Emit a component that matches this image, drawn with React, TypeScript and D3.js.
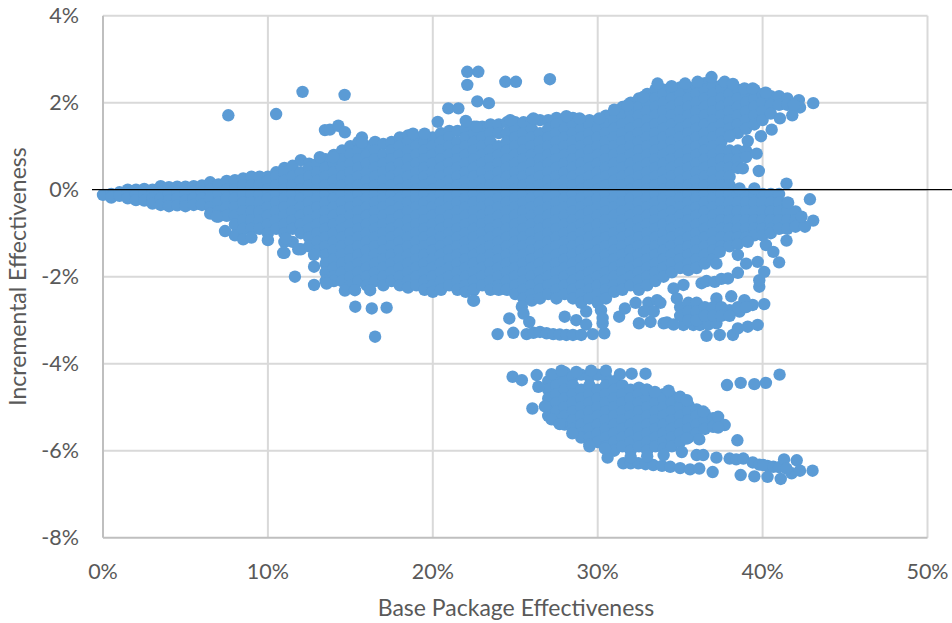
import React from "react";
import * as d3 from "d3";

const xTicks = [0, 10, 20, 30, 40, 50];
const yTicks = [4, 2, 0, -2, -4, -6, -8];
const xTitle = "Base Package Effectiveness";
const yTitle = "Incremental Effectiveness";

// [base %, incremental % values]
const tailColumns: [number, number[]][] = [
  [0, [-0.12]], [0.5, [-0.1, -0.18]], [1, [-0.06, -0.14]], [1.5, [0, -0.1, -0.2]], [2, [0, -0.1, -0.24]],
  [2.5, [0.02, -0.1, -0.25]], [3, [0, -0.1, -0.2, -0.32]], [3.5, [0.08, -0.05, -0.2, -0.35]], [4, [0.06, -0.1, -0.25, -0.38]],
  [4.5, [0.07, -0.05, -0.2, -0.36]], [5, [0.07, -0.1, -0.25, -0.38]], [5.5, [0.08, -0.05, -0.2, -0.35]], [6, [0.1, -0.05, -0.2, -0.35]],
  [6.5, [0.17, 0, -0.2, -0.4, -0.55]], [7, [0.12, -0.1, -0.3, -0.5, -0.62]], [7.5, [0.2, 0, -0.2, -0.4, -0.6]],
  [8, [0.22, 0, -0.2, -0.4, -0.6, -0.8, -1.05]], [8.5, [0.26, 0.1, -0.1, -0.3, -0.5, -0.7, -0.9, -1.14]], [9, [0.3, 0.1, -0.1, -0.3, -0.5, -0.7, -0.9, -1.1]],
  [9.5, [0.3, 0.1, -0.1, -0.3, -0.5, -0.7, -0.9]], [10, [0.3, 0.2, 0, -0.2, -0.4, -0.6, -0.8, -1, -1.16]], [10.5, [0.4, 0.3, 0.1, -0.1, -0.3, -0.5, -0.7, -0.9]],
  [11, [0.5, 0.4, 0.2, 0, -0.2, -0.4, -0.6, -0.8, -1, -1.2, -1.45]], [11.5, [0.55, 0.3, 0.1, -0.1, -0.3, -0.5, -0.7, -0.9, -1.2]],
  [12, [0.68, 0.4, 0.2, 0, -0.2, -0.4, -0.6, -0.8, -1, -1.37]], [12.5, [0.6, 0.5, 0.3, 0.1, -0.1, -0.3, -0.5, -0.7, -0.9, -1.1, -1.3]],
  [13, [0.6, 0.4, 0.2, 0, -0.2, -0.4, -0.6, -0.8, -1, -1.2, -1.4]],
];

const coreColumnsA: [number, number[]][] = [
  [13.5, [0.7, 0.5, 0.3, 0.1, -0.1, -0.3, -0.5, -0.7, -0.9, -1.1, -1.3, -1.5, -1.7, -1.9, -2.1]],
  [14, [0.8, 0.6, 0.4, 0.2, 0, -0.2, -0.4, -0.6, -0.8, -1, -1.2, -1.4, -1.6, -1.8, -2, -2.1]],
  [14.5, [0.9, 0.7, 0.5, 0.3, 0.1, -0.1, -0.3, -0.5, -0.7, -0.9, -1.1, -1.3, -1.5, -1.7, -1.9, -2.1]],
  [15, [1, 0.8, 0.6, 0.4, 0.2, 0, -0.2, -0.4, -0.6, -0.8, -1, -1.2, -1.4, -1.6, -1.8, -2, -2.2]],
  [15.5, [1.1, 0.9, 0.7, 0.5, 0.3, 0.1, -0.1, -0.3, -0.5, -0.7, -0.9, -1.1, -1.3, -1.5, -1.7, -1.9, -2.1]],
  [16, [1, 0.8, 0.6, 0.4, 0.2, 0, -0.2, -0.4, -0.6, -0.8, -1, -1.2, -1.4, -1.6, -1.8, -2, -2.2]],
  [16.5, [1.1, 0.9, 0.7, 0.5, 0.3, 0.1, -0.1, -0.3, -0.5, -0.7, -0.9, -1.1, -1.3, -1.5, -1.7, -1.9, -2.1]],
  [17, [1.05, 0.8, 0.6, 0.4, 0.2, 0, -0.2, -0.4, -0.6, -0.8, -1, -1.2, -1.4, -1.6, -1.8, -2, -2.2]],
  [17.5, [1.1, 0.9, 0.7, 0.5, 0.3, 0.1, -0.1, -0.3, -0.5, -0.7, -0.9, -1.1, -1.3, -1.5, -1.7, -1.9, -2.1]],
  [18, [1.2, 1, 0.8, 0.6, 0.4, 0.2, 0, -0.2, -0.4, -0.6, -0.8, -1, -1.2, -1.4, -1.6, -1.8, -2, -2.2]],
  [18.5, [1.25, 1.1, 0.9, 0.7, 0.5, 0.3, 0.1, -0.1, -0.3, -0.5, -0.7, -0.9, -1.1, -1.3, -1.5, -1.7, -1.9, -2.1, -2.25]],
  [19, [1.2, 1, 0.8, 0.6, 0.4, 0.2, 0, -0.2, -0.4, -0.6, -0.8, -1, -1.2, -1.4, -1.6, -1.8, -2, -2.2]],
  [19.5, [1.25, 1.1, 0.9, 0.7, 0.5, 0.3, 0.1, -0.1, -0.3, -0.5, -0.7, -0.9, -1.1, -1.3, -1.5, -1.7, -1.9, -2.1, -2.3]],
  [20, [1.2, 1, 0.8, 0.6, 0.4, 0.2, 0, -0.2, -0.4, -0.6, -0.8, -1, -1.2, -1.4, -1.6, -1.8, -2, -2.2, -2.35]],
  [20.5, [1.3, 1.1, 0.9, 0.7, 0.5, 0.3, 0.1, -0.1, -0.3, -0.5, -0.7, -0.9, -1.1, -1.3, -1.5, -1.7, -1.9, -2.1, -2.3]],
  [21, [1.35, 1.2, 1, 0.8, 0.6, 0.4, 0.2, 0, -0.2, -0.4, -0.6, -0.8, -1, -1.2, -1.4, -1.6, -1.8, -2, -2.2]],
  [21.5, [1.35, 1.1, 0.9, 0.7, 0.5, 0.3, 0.1, -0.1, -0.3, -0.5, -0.7, -0.9, -1.1, -1.3, -1.5, -1.7, -1.9, -2.1, -2.3]],
  [22, [1.4, 1.2, 1, 0.8, 0.6, 0.4, 0.2, 0, -0.2, -0.4, -0.6, -0.8, -1, -1.2, -1.4, -1.6, -1.8, -2, -2.2, -2.35]],
  [22.5, [1.45, 1.3, 1.1, 0.9, 0.7, 0.5, 0.3, 0.1, -0.1, -0.3, -0.5, -0.7, -0.9, -1.1, -1.3, -1.5, -1.7, -1.9, -2.1, -2.3, -2.55]],
  [23, [1.45, 1.2, 1, 0.8, 0.6, 0.4, 0.2, 0, -0.2, -0.4, -0.6, -0.8, -1, -1.2, -1.4, -1.6, -1.8, -2, -2.2]],
];

const coreColumnsB: [number, number[]][] = [
  [23.5, [1.5, 1.3, 1.1, 0.9, 0.7, 0.5, 0.3, 0.1, -0.1, -0.3, -0.5, -0.7, -0.9, -1.1, -1.3, -1.5, -1.7, -1.9, -2.1, -2.3]],
  [24, [1.5, 1.3, 1, 0.8, 0.6, 0.4, 0.2, 0, -0.2, -0.4, -0.6, -0.8, -1, -1.2, -1.4, -1.6, -1.8, -2, -2.2, -2.3]],
  [24.5, [1.55, 1.3, 1.1, 0.9, 0.7, 0.5, 0.3, 0.1, -0.1, -0.3, -0.5, -0.7, -0.9, -1.1, -1.3, -1.5, -1.7, -1.9, -2.1, -2.3]],
  [25, [1.55, 1.4, 1.2, 1, 0.8, 0.6, 0.4, 0.2, 0, -0.2, -0.4, -0.6, -0.8, -1, -1.2, -1.4, -1.6, -1.8, -2, -2.2, -2.4]],
  [25.5, [1.55, 1.3, 1.1, 0.9, 0.7, 0.5, 0.3, 0.1, -0.1, -0.3, -0.5, -0.7, -0.9, -1.1, -1.3, -1.5, -1.7, -1.9, -2.1, -2.3, -2.5]],
  [26, [1.6, 1.4, 1.2, 1, 0.8, 0.6, 0.4, 0.2, 0, -0.2, -0.4, -0.6, -0.8, -1, -1.2, -1.4, -1.6, -1.8, -2, -2.2, -2.4, -2.55]],
  [26.5, [1.6, 1.3, 1.1, 0.9, 0.7, 0.5, 0.3, 0.1, -0.1, -0.3, -0.5, -0.7, -0.9, -1.1, -1.3, -1.5, -1.7, -1.9, -2.1, -2.3, -2.5]],
  [27, [1.6, 1.4, 1.2, 1, 0.8, 0.6, 0.4, 0.2, 0, -0.2, -0.4, -0.6, -0.8, -1, -1.2, -1.4, -1.6, -1.8, -2, -2.2, -2.4]],
  [27.5, [1.65, 1.5, 1.3, 1.1, 0.9, 0.7, 0.5, 0.3, 0.1, -0.1, -0.3, -0.5, -0.7, -0.9, -1.1, -1.3, -1.5, -1.7, -1.9, -2.1, -2.3, -2.5]],
  [28, [1.6, 1.4, 1.2, 1, 0.8, 0.6, 0.4, 0.2, 0, -0.2, -0.4, -0.6, -0.8, -1, -1.2, -1.4, -1.6, -1.8, -2, -2.2, -2.4]],
  [28.5, [1.65, 1.5, 1.3, 1.1, 0.9, 0.7, 0.5, 0.3, 0.1, -0.1, -0.3, -0.5, -0.7, -0.9, -1.1, -1.3, -1.5, -1.7, -1.9, -2.1, -2.3, -2.5]],
  [29, [1.6, 1.4, 1.2, 1, 0.8, 0.6, 0.4, 0.2, 0, -0.2, -0.4, -0.6, -0.8, -1, -1.2, -1.4, -1.6, -1.8, -2, -2.2, -2.4, -2.6]],
  [29.5, [1.6, 1.5, 1.3, 1.1, 0.9, 0.7, 0.5, 0.3, 0.1, -0.1, -0.3, -0.5, -0.7, -0.9, -1.1, -1.3, -1.5, -1.7, -1.9, -2.1, -2.3, -2.5]],
  [30, [1.6, 1.4, 1.2, 1, 0.8, 0.6, 0.4, 0.2, 0, -0.2, -0.4, -0.6, -0.8, -1, -1.2, -1.4, -1.6, -1.8, -2, -2.2, -2.4, -2.6]],
  [30.5, [1.7, 1.5, 1.3, 1.1, 0.9, 0.7, 0.5, 0.3, 0.1, -0.1, -0.3, -0.5, -0.7, -0.9, -1.1, -1.3, -1.5, -1.7, -1.9, -2.1, -2.3, -2.5]],
  [31, [1.8, 1.6, 1.4, 1.2, 1, 0.8, 0.6, 0.4, 0.2, 0, -0.2, -0.4, -0.6, -0.8, -1, -1.2, -1.4, -1.6, -1.8, -2, -2.2, -2.35]],
  [31.5, [1.9, 1.7, 1.5, 1.3, 1.1, 0.9, 0.7, 0.5, 0.3, 0.1, -0.1, -0.3, -0.5, -0.7, -0.9, -1.1, -1.3, -1.5, -1.7, -1.9, -2.1, -2.3]],
  [32, [2, 1.8, 1.6, 1.4, 1.2, 1, 0.8, 0.6, 0.4, 0.2, 0, -0.2, -0.4, -0.6, -0.8, -1, -1.2, -1.4, -1.6, -1.8, -2, -2.2]],
];

const coreColumnsC: [number, number[]][] = [
  [32.5, [2.1, 1.9, 1.7, 1.5, 1.3, 1.1, 0.9, 0.7, 0.5, 0.3, 0.1, -0.1, -0.3, -0.5, -0.7, -0.9, -1.1, -1.3, -1.5, -1.7, -1.9, -2.1, -2.3]],
  [33, [2.2, 2, 1.8, 1.6, 1.4, 1.2, 1, 0.8, 0.6, 0.4, 0.2, 0, -0.2, -0.4, -0.6, -0.8, -1, -1.2, -1.4, -1.6, -1.8, -2, -2.2]],
  [33.5, [2.3, 2.1, 1.9, 1.7, 1.5, 1.3, 1.1, 0.9, 0.7, 0.5, 0.3, 0.1, -0.1, -0.3, -0.5, -0.7, -0.9, -1.1, -1.3, -1.5, -1.7, -1.9, -2.1]],
  [34, [2.3, 2.2, 2, 1.8, 1.6, 1.4, 1.2, 1, 0.8, 0.6, 0.4, 0.2, 0, -0.2, -0.4, -0.6, -0.8, -1, -1.2, -1.4, -1.6, -1.8, -2]],
  [34.5, [2.3, 2.1, 1.9, 1.7, 1.5, 1.3, 1.1, 0.9, 0.7, 0.5, 0.3, 0.1, -0.1, -0.3, -0.5, -0.7, -0.9, -1.1, -1.3, -1.5, -1.7, -1.9]],
  [35, [2.35, 2.2, 2, 1.8, 1.6, 1.4, 1.2, 1, 0.8, 0.6, 0.4, 0.2, 0, -0.2, -0.4, -0.6, -0.8, -1, -1.2, -1.4, -1.6, -1.8]],
  [35.5, [2.35, 2.1, 1.9, 1.7, 1.5, 1.3, 1.1, 0.9, 0.7, 0.5, 0.3, 0.1, -0.1, -0.3, -0.5, -0.7, -0.9, -1.1, -1.3, -1.5, -1.7, -1.85]],
  [36, [2.4, 2.2, 2, 1.8, 1.6, 1.4, 1.2, 1, 0.8, 0.6, 0.4, 0.2, 0, -0.2, -0.4, -0.6, -0.8, -1, -1.2, -1.4, -1.6, -1.8]],
  [36.5, [2.45, 2.3, 2.1, 1.9, 1.7, 1.5, 1.3, 1.1, 0.9, 0.7, 0.5, 0.3, 0.1, -0.1, -0.3, -0.5, -0.7, -0.9, -1.1, -1.3, -1.5, -1.7]],
  [37, [2.4, 2.2, 2, 1.8, 1.6, 1.4, 1.2, 1, 0.8, 0.6, 0.4, 0.2, 0, -0.2, -0.4, -0.6, -0.8, -1, -1.2, -1.4, -1.6]],
  [37.5, [2.4, 2.3, 2.1, 1.9, 1.7, 1.5, 1.3, 1.1, 0.9, 0.7, 0.5, 0.3, 0.1, -0.1, -0.3, -0.5, -0.7, -0.9, -1.1, -1.3]],
  [38, [2.35, 2.2, 2, 1.8, 1.6, 1.4, 1.25, 0.9, 0.7, 0.5, 0.3, 0.1, -0.1, -0.3, -0.5, -0.7, -0.9, -1.1, -1.3]],
  [38.5, [2.3, 2.1, 1.9, 1.7, 1.5, 1.3, 0.9, 0.7, 0.5, -0.1, -0.3, -0.5, -0.7, -0.9, -1.1, -1.25]],
  [39, [2.3, 2.2, 2, 1.8, 1.6, 1.4, 0.9, 0.75, -0.1, -0.3, -0.5, -0.7, -0.9, -1.1]],
  [39.5, [2.3, 2.1, 1.9, 1.7, 1.5, -0.1, -0.3, -0.5, -0.7, -0.9, -1.05]],
  [40, [2.2, 2, 1.8, 1.6, -0.1, -0.3, -0.5, -0.7, -0.9, -1.05]],
  [40.5, [2.15, 1.95, 1.75, -0.1, -0.3, -0.5, -0.7, -0.9, -1]],
  [41, [2.15, 1.95, -0.1, -0.3, -0.5, -0.7, -0.9]],
  [41.5, [2.1, 1.95, -0.3, -0.5, -0.7, -0.9]],
  [42, [-0.5, -0.7, -0.85]],
];

const lowerCluster: [number, number[]][] = [
  [27, [-4.4, -4.6, -4.8, -5, -5.2]], [27.5, [-4.3, -4.5, -4.7, -4.9, -5.1, -5.3]], [28, [-4.2, -4.4, -4.6, -4.8, -5, -5.2, -5.4]],
  [28.5, [-4.3, -4.5, -4.7, -4.9, -5.1, -5.3, -5.5]], [29, [-4.25, -4.6, -4.8, -5, -5.2, -5.4, -5.6, -5.7]],
  [29.5, [-4.3, -4.5, -4.7, -4.9, -5.1, -5.3, -5.5, -5.7, -5.85]], [30, [-4.25, -4.6, -4.8, -5, -5.2, -5.4, -5.6, -5.8]],
  [30.5, [-4.3, -4.5, -4.7, -4.9, -5.1, -5.3, -5.5, -5.7, -5.9]], [31, [-4.4, -4.6, -4.8, -5, -5.2, -5.4, -5.6, -5.8, -6]],
  [31.5, [-4.5, -4.7, -4.9, -5.1, -5.3, -5.5, -5.7, -5.9]], [32, [-4.6, -4.8, -5, -5.2, -5.4, -5.6, -5.8, -6]],
  [32.5, [-4.55, -4.7, -4.9, -5.1, -5.3, -5.5, -5.7, -5.9]], [33, [-4.6, -4.8, -5, -5.2, -5.4, -5.6, -5.8, -6]],
  [33.5, [-4.7, -4.9, -5.1, -5.3, -5.5, -5.7, -5.9]], [34, [-4.7, -4.8, -5, -5.2, -5.4, -5.6, -5.8, -5.95]],
  [34.5, [-4.75, -4.9, -5.1, -5.3, -5.5, -5.7, -5.9]], [35, [-4.85, -5, -5.2, -5.4, -5.6, -5.8]],
  [35.5, [-4.95, -5.1, -5.3, -5.5, -5.7]], [36, [-5.05, -5.2, -5.4, -5.6]], [36.5, [-5.15, -5.3, -5.5]], [37, [-5.25, -5.45]],
];

const lowerClusterEdge: [number, number][] = [
  [24.84, -4.3], [25.4, -4.38], [26.3, -4.26], [26.4, -4.53], [27.2, -4.24], [27.8, -4.16], [28.7, -4.19], [29.6, -4.16], [30.5, -4.16],
  [31.35, -4.24], [32.06, -4.23], [32.9, -4.23], [32.97, -4.6], [33.47, -4.65], [34.3, -4.62], [35, -4.76], [35.4, -4.84], [36.4, -5.1],
  [37.3, -5.22], [37.7, -5.41], [37.3, -5.47], [36.16, -5.74], [35.4, -5.72], [35.1, -6.03], [38.47, -5.76], [26.04, -5.03], [26.8, -4.98],
  [27.2, -5.28], [27.7, -5.39], [28.46, -5.6], [29.5, -5.9], [30.6, -6.16], [30.44, -5.95], [31.55, -6.29], [32, -6.29], [32.46, -6.29],
  [32.9, -6.31], [33.37, -6.33], [33.9, -6.35], [34.4, -6.37], [35, -6.4], [35.6, -6.43], [36.16, -6.41], [36, -6.1], [36.4, -6.1],
  [36.97, -6.49], [37.2, -6.16], [38, -6.18], [38.4, -6.2], [38.83, -6.18], [38.67, -6.56], [39.4, -6.27], [39.5, -6.59], [39.8, -6.32],
  [40.3, -6.6], [40.3, -6.35], [41.1, -6.65], [40.04, -6.33], [40.65, -6.37], [41, -6.38], [41.3, -6.2], [42.07, -6.22], [41.76, -6.52],
  [42.27, -6.46], [43.03, -6.46], [41.45, -6.41], [37.84, -4.49], [38.67, -4.44], [39.5, -4.47], [40.2, -4.44], [41.03, -4.25],
  [32, -6.15], [33, -6.13], [34, -6.1],
];

const strayBelow: [number, number][] = [
  [23.93, -3.32], [24.88, -3.29], [25.69, -3.32], [26.1, -3.29], [26.5, -3.27], [26.9, -3.3], [27.3, -3.32], [27.7, -3.33], [28.1, -3.34],
  [28.5, -3.34], [29, -3.34], [29.7, -3.32], [30.4, -3.3], [24.64, -2.96], [25.85, -3.04], [28, -2.92], [28.7, -3], [29.3, -3.1], [30.3, -3.07],
  [30.2, -2.77], [30.3, -2.95], [25.4, -2.69], [25.5, -2.85], [29.3, -2.8], [31.3, -2.92], [31.65, -2.73], [32.5, -3.07], [33.2, -3.04], [33.07, -2.6],
  [34, -3.07], [33.6, -2.54], [34.6, -2.27], [35.2, -2.19], [35.2, -3.11], [35.8, -3.11], [36.2, -3.11], [36.7, -3.1], [37.2, -3.07], [36.6, -3.36], [37.4, -3.34],
  [38.2, -3.34], [38.5, -3.19], [39.1, -3.15], [39.7, -3.11], [40.1, -2.63], [39.4, -2.65], [38.9, -2.54], [38.6, -2.8], [38, -2.77], [38.1, -2.45],
  [37.2, -2.5], [36.3, -2.15], [36.6, -2.1], [37.1, -2.12], [37.5, -2.05], [37.9, -2.04], [38.5, -1.91], [39.8, -2.23], [39.8, -2.08], [40.1, -1.89], [39.7, -1.66],
  [39, -1.7], [38.5, -1.5], [37.2, -1.7], [37.4, -1.43], [39.1, -1.2], [40.2, -1.27], [40.65, -1.43], [41, -1.67], [41.45, -1.17], [34.8, -2.5],
  [35, -2.7], [35, -2.9], [35.5, -2.6], [35.5, -2.8], [35.5, -3], [36, -2.6], [36, -2.8], [36, -3], [36.5, -2.7], [36.5, -2.9], [37, -2.7], [37, -2.9],
  [37.5, -2.7], [37.5, -2.9], [38, -2.9], [38.5, -2.7], [39, -2.7], [34.2, -3.05], [34.6, -3.1], [33.8, -2.6], [33.4, -2.8], [32.8, -2.8], [32.3, -2.6],
  [15.3, -2.69], [16.3, -2.73], [17.2, -2.71], [16.5, -3.38], [14.67, -2.32], [15.28, -2.31], [16.2, -2.31], [13.56, -2.16], [12.8, -2.19], [11.64, -2],
  [12.8, -1.77], [12.8, -1.5], [11.84, -1.37], [10.93, -1.45], [11.1, -1.12], [7.4, -0.95], [6.9, -0.62], [22.45, -2.55],
];

const strayAbove: [number, number][] = [
  [22.09, 2.71], [22.76, 2.71], [22.09, 2.41], [24.4, 2.48], [25.04, 2.48], [27.1, 2.54], [22.7, 2.03], [23.4, 1.99], [20.94, 1.87], [21.55, 1.87],
  [20.3, 1.56], [22, 1.58], [7.6, 1.71], [10.5, 1.74], [12.1, 2.25], [14.65, 2.18], [13.46, 1.37], [13.76, 1.38], [14.27, 1.47], [14.67, 1.32],
  [15.7, 1.2], [15.7, 1.08], [13.15, 0.75], [13.96, 0.75], [43.07, 1.99], [42.2, 2.06], [42.27, 1.89], [41.8, 1.71], [41.05, 1.64], [40.55, 1.38],
  [39.9, 1.23], [39.1, 1.12], [38, 1.22], [39.64, 0.83], [39.77, 0.43], [38.8, 0.49], [41.45, 0.14], [39.5, 0.03], [38.6, 0.03], [42.87, -0.22],
  [43.07, -0.71], [42.57, -0.85], [42.36, -0.62], [41.55, -0.3], [33.63, 2.44], [34.48, 2.38], [35.3, 2.44], [36.06, 2.48], [36.9, 2.59], [37.7, 2.48],
  [38.2, 2.43], [38.9, 2.33], [39.4, 2.33], [40.2, 2.23], [32.76, 2.13], [31.8, 1.94], [31, 1.84], [18.8, 1.29], [19.5, 1.29], [22.66, 1.45], [24.7, 1.6],
  [26.1, 1.64], [28.1, 1.69], [28.9, 1.64], [30.1, 1.64], [41.9, 1.95],
];

const columnGroups = [tailColumns, coreColumnsA, coreColumnsB, coreColumnsC, lowerCluster];
const points: [number, number][] = [
  ...columnGroups.flat().flatMap(([x, ys]) => ys.map((y): [number, number] => [x, y])),
  ...lowerClusterEdge,
  ...strayBelow,
  ...strayAbove,
];

const W = 952;
const H = 623;
const x = d3.scaleLinear().domain([0, 50]).range([103, 927.5]);
const y = d3.scaleLinear().domain([4, -8]).range([15.7, 537.7]);
const textFont = "Lato, sans-serif";
const textColor = "#595959";

export default function App() {
  return (
    <svg width={W} height={H} style={{ position: "absolute", left: 0, top: 0, background: "#fff" }}>
      {xTicks.filter((t) => t > 0).map((t) => (
        <line key={t} x1={x(t)} x2={x(t)} y1={y(4)} y2={y(-8)} stroke="#D9D9D9" strokeWidth={2} />
      ))}
      {yTicks.filter((t) => t > -8).map((t) => (
        <line key={t} x1={x(0)} x2={x(50)} y1={y(t)} y2={y(t)} stroke="#D9D9D9" strokeWidth={2} />
      ))}
      <line x1={x(0)} x2={x(0)} y1={y(4)} y2={y(-8)} stroke="#BFBFBF" strokeWidth={2} />
      <line x1={x(0)} x2={x(50)} y1={y(-8)} y2={y(-8)} stroke="#BFBFBF" strokeWidth={2} />
      <g fill="#5B9BD5">
        {points.map(([a, b], i) => (
          <circle key={i} cx={x(a)} cy={y(b)} r={6.2} />
        ))}
      </g>
      <line x1={92} x2={W} y1={y(0)} y2={y(0)} stroke="#000" strokeWidth={1.3} />
      <g fontFamily={textFont} fontSize={21.5} fill={textColor}>
        {yTicks.map((t) => (
          <text key={t} x={79} y={y(t) + 7.5} textAnchor="end">{`${t}%`}</text>
        ))}
        {xTicks.map((t) => (
          <text key={t} x={x(t)} y={578.5} textAnchor="middle">{`${t}%`}</text>
        ))}
      </g>
      <text x={516} y={616} textAnchor="middle" fontFamily={textFont} fontSize={23} fill={textColor}>{xTitle}</text>
      <text transform="translate(26,276.5) rotate(-90)" textAnchor="middle" fontFamily={textFont} fontSize={23} fill={textColor}>{yTitle}</text>
    </svg>
  );
}
